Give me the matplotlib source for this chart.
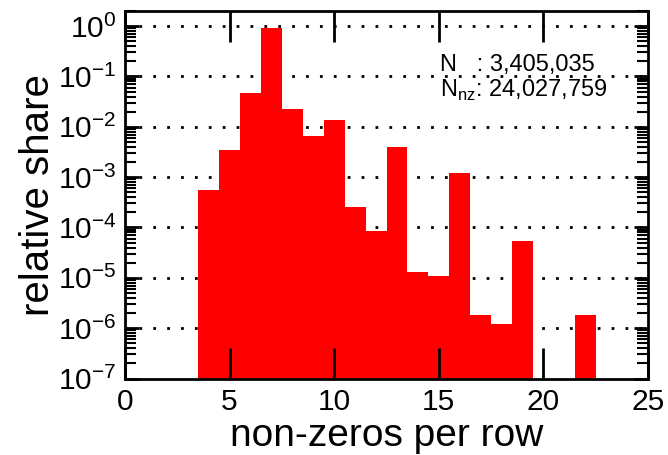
import matplotlib.pyplot as plt
from matplotlib.ticker import LogLocator, FixedLocator

plt.rcParams['font.family'] = ['Liberation Sans', 'DejaVu Sans']

# non-zeros per row -> relative share
nnz = [4, 5, 6, 7, 8, 9, 10, 11, 12, 13, 14, 15, 16, 17, 18, 19, 22]
share = [5.6e-4, 3.4e-3, 4.8e-2, 0.92, 2.26e-2, 6.7e-3, 1.37e-2, 2.5e-4, 8.5e-5,
         4.0e-3, 1.3e-5, 1.07e-5, 1.2e-3, 1.85e-6, 1.23e-6, 5.5e-5, 1.8e-6]
exps = list(range(-7, 1))
xticks = [0, 5, 10, 15, 20, 25]

n_rows = '3,405,035'
n_nz = '24,027,759'

fig = plt.figure(figsize=(6.68, 4.55), dpi=100)
ax = fig.add_axes([125 / 668, 1 - 378.5 / 455, (648 - 125) / 668, (378.5 - 11) / 455])

ax.bar(nnz, share, width=1.0, color='#ff0000', bottom=1e-9, zorder=2)

ax.set_yscale('log')
ax.set_xlim(0, 25)
ax.set_ylim(1e-7, 2)

ax.yaxis.set_major_locator(FixedLocator([10.0 ** e for e in exps]))
ax.yaxis.set_minor_locator(LogLocator(base=10, subs=range(2, 10), numticks=20))
ax.set_yticklabels([r'$\mathregular{10^{%d}}$' % e for e in exps])
ax.set_xticks(xticks)

# dotted grid, behind the bars (ticks stay on top)
ax.set_axisbelow(False)
for e in exps[1:]:
    ax.axhline(10.0 ** e, linestyle=(0, (1, 4)), color='black', linewidth=2, zorder=1)

ax.tick_params(axis='both', which='both', direction='in', top=True, right=True, labelsize=21.5, colors='black')
ax.tick_params(axis='x', which='major', length=22, width=2, pad=7)
ax.tick_params(axis='y', which='major', length=10, width=2, pad=6)
ax.tick_params(axis='y', which='minor', length=8, width=1.5)

for sp in ax.spines.values():
    sp.set_linewidth(2)

ax.set_xlabel('non-zeros per row', fontsize=28, labelpad=1)
ax.set_ylabel('relative share', fontsize=29, labelpad=1)

fig.text(440 / 668, 1 - 65 / 455, 'N   : ' + n_rows, fontsize=17, va='center', ha='left')
fig.text(440 / 668, 1 - 90 / 455, r'N$_{\mathregular{nz}}$: ' + n_nz, fontsize=17, va='center', ha='left')

fig.savefig('out.png', dpi=100)
